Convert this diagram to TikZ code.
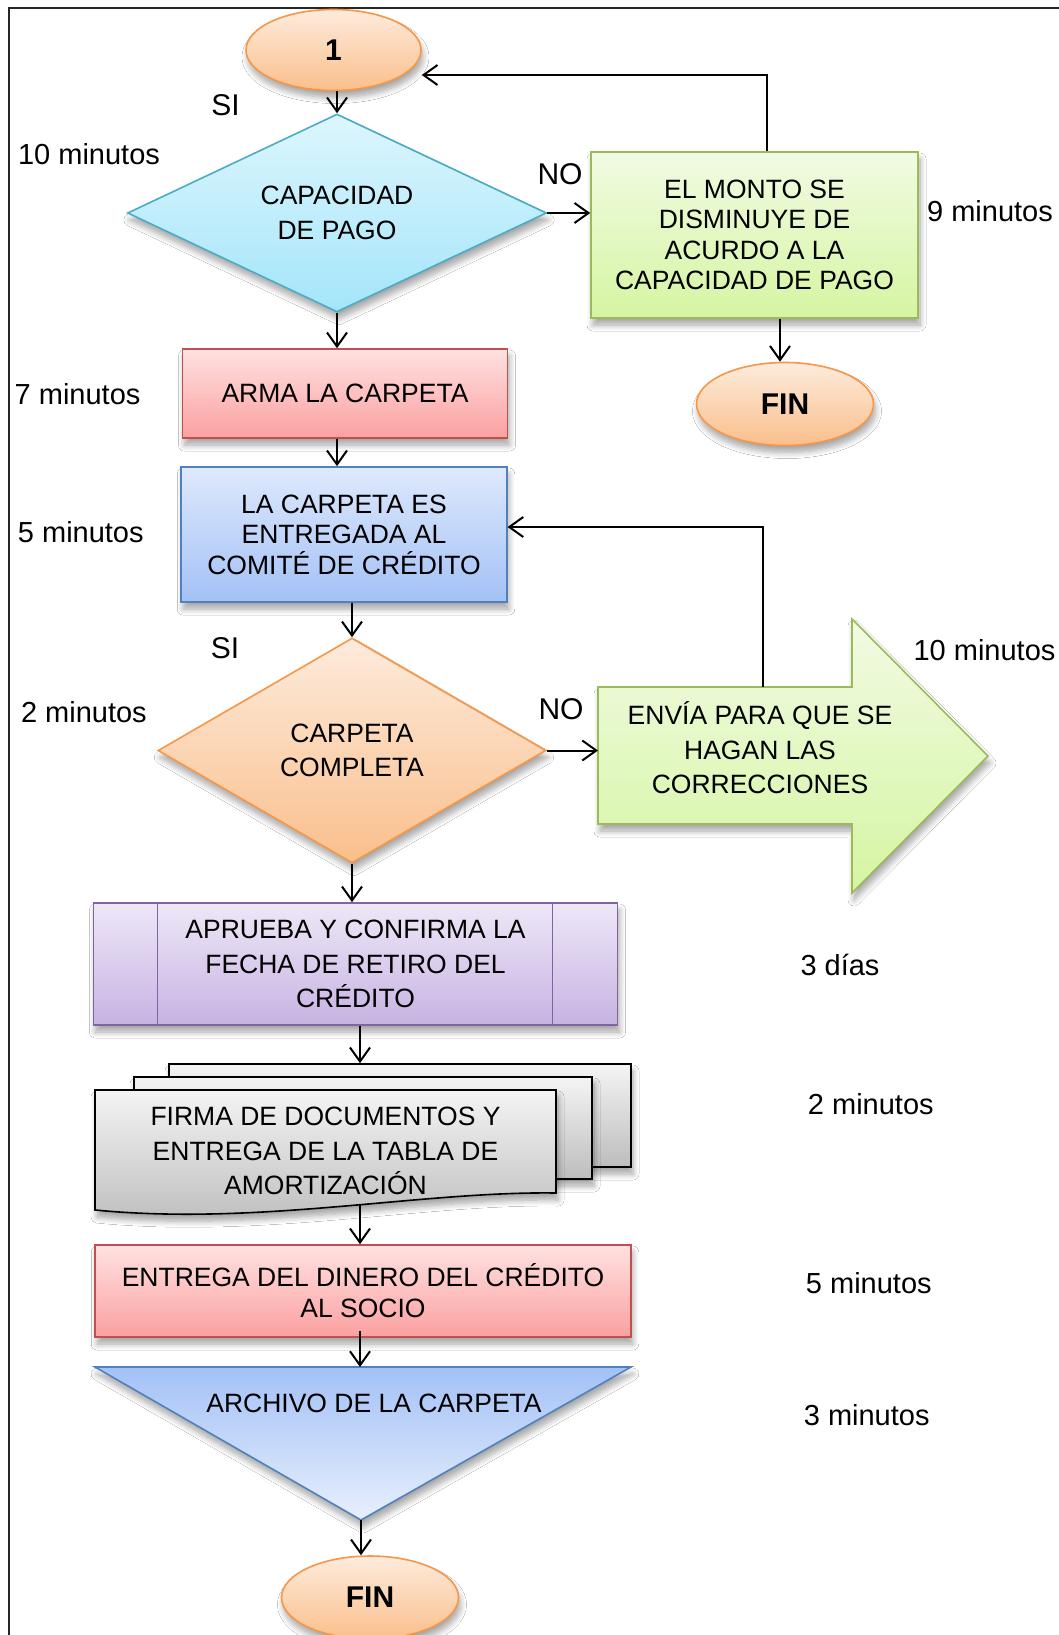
\documentclass[tikz,border=0pt]{standalone}
\usepackage{fontspec}
\setmainfont{Liberation Sans}
\usetikzlibrary{shapes.geometric,arrows.meta,shadows.blur}

% fills and outlines
\definecolor{orT}{HTML}{FDEBDC}\definecolor{orB}{HTML}{FABF8C}\definecolor{orL}{HTML}{F79646}
\definecolor{cyT}{HTML}{DDF6FD}\definecolor{cyB}{HTML}{A4E5FA}\definecolor{cyL}{HTML}{4BACC6}
\definecolor{grT}{HTML}{F1FBE3}\definecolor{grB}{HTML}{D5F5A2}\definecolor{grL}{HTML}{9BBB59}
\definecolor{rdT}{HTML}{FFE1E1}\definecolor{rdB}{HTML}{FBA0A0}\definecolor{rdL}{HTML}{C0504D}
\definecolor{blT}{HTML}{DEE9FC}\definecolor{blB}{HTML}{A3C1F6}\definecolor{blL}{HTML}{4F81BD}
\definecolor{puT}{HTML}{EEE7F7}\definecolor{puB}{HTML}{C7B3E3}\definecolor{puL}{HTML}{8064A2}
\definecolor{gyT}{HTML}{F4F4F4}\definecolor{gyB}{HTML}{BDBDBD}

\tikzset{
  txt/.style={font=\fontsize{26.5}{30.5}\selectfont, align=center},
  txtwide/.style={font=\fontsize{26.5}{34.4}\selectfont, align=center},
  sidelabel/.style={font=\fontsize{29}{33}\selectfont, inner sep=0pt},
  yesno/.style={font=\fontsize{30}{34}\selectfont, inner sep=0pt},
  soft/.style={blur shadow={shadow xshift=2pt, shadow yshift=-7pt,
      shadow blur radius=6pt, shadow blur steps=8, shadow opacity=35}},
  shapeline/.style={line width=1.6pt},
  terminal/.style={ellipse, soft, shapeline, draw=orL, top color=orT, bottom color=orB,
      minimum width=177pt, minimum height=83pt, inner sep=0pt,
      font=\bfseries\fontsize{30}{34}\selectfont},
  procbox/.style n args={3}{rectangle, soft, shapeline, draw=#3, top color=#1, bottom color=#2, inner sep=0pt},
  sheet/.style={rectangle, soft, shapeline, draw=black, top color=gyT, bottom color=gyB, inner sep=0pt},
  arr/.style={-{Straight Barb[length=14pt,width=20pt]}, line width=2pt},
}

\begin{document}
\begin{tikzpicture}[x=1pt,y=-1pt]
\useasboundingbox (0,0) rectangle (1059,1635);
\fill[white] (0,0) rectangle (1059,1635);

% outer frame
\draw[line width=2pt, black!85] (8.5,1645) -- (8.5,8.5) -- (1070,8.5);

% ---------- shapes ----------
\node[terminal, minimum width=175pt, minimum height=81pt] (start) at (333.5,50) {1};

\node[diamond, shape aspect=2.1, minimum width=419pt, minimum height=198pt, inner sep=0pt,
      soft, shapeline, draw=cyL, top color=cyT, bottom color=cyB, txtwide]
      (dia1) at (337,213) {CAPACIDAD\\DE PAGO};

\node[procbox={grT}{grB}{grL}, minimum width=327pt, minimum height=166pt, txt]
      (monto) at (754.5,235) {EL MONTO SE\\DISMINUYE DE\\ACURDO A LA\\CAPACIDAD DE PAGO};

\node[terminal] (fin1) at (785,404) {FIN};

\node[procbox={rdT}{rdB}{rdL}, minimum width=325pt, minimum height=89pt, txt]
      (arma) at (345,393.5) {ARMA LA CARPETA};

\node[procbox={blT}{blB}{blL}, minimum width=325.5pt, minimum height=135pt, txt]
      (entrega) at (344,534.5) {LA CARPETA ES\\ENTREGADA AL\\COMITÉ DE CRÉDITO};

\node[diamond, shape aspect=1.72, minimum width=388pt, minimum height=225pt, inner sep=0pt,
      soft, shapeline, draw=orL, top color=orT, bottom color=orB, txtwide]
      (dia2) at (352,750.5) {CARPETA\\COMPLETA};

% block arrow with the corrections step
\path[soft, shapeline, draw=grL, top color=grT, bottom color=grB]
  (598,687) -- (852,687) -- (852,619) -- (988,756) -- (852,893) -- (852,824) -- (598,824) -- cycle;
\coordinate (enviaL) at (598,749.5);
\coordinate (enviaT) at (763,687);
\node[txtwide, inner sep=0pt] (envia) at (760,748) {ENVÍA PARA QUE SE\\HAGAN LAS\\CORRECCIONES};

% predefined process
\node[procbox={puT}{puB}{puL}, minimum width=524pt, minimum height=122pt]
      (aprueba) at (355.5,964) {};
\draw[line width=1.3pt, draw=puL] (aprueba.north west) ++(65,0) -- ++(0,122);
\draw[line width=1.3pt, draw=puL] (aprueba.north east) ++(-65.5,0) -- ++(0,122);
\node[txtwide, inner sep=0pt] (apruebaT) at (aprueba.center) {APRUEBA Y CONFIRMA LA\\FECHA DE RETIRO DEL\\CRÉDITO};

% stacked documents
\node[sheet, minimum width=462pt, minimum height=103pt] (doc3) at (400,1115.5) {};
\node[sheet, minimum width=458pt, minimum height=102pt] (doc2) at (363,1128) {};
\path[soft, shapeline, draw=black, top color=gyT, bottom color=gyB]
  (95,1090) -- (556,1090) -- (556,1193)
  .. controls (420,1191) and (260,1226) .. (95,1210) -- cycle;
\node[txtwide, inner sep=0pt] (firma) at (325.5,1151) {FIRMA DE DOCUMENTOS Y\\ENTREGA DE LA TABLA DE\\AMORTIZACIÓN};
\coordinate (firmaB) at (360,1205);

\node[procbox={rdT}{rdB}{rdL}, minimum width=535.5pt, minimum height=92pt,
      font=\fontsize{26.5}{31}\selectfont, align=center]
      (dinero) at (363,1291) {ENTREGA DEL DINERO DEL CRÉDITO\\AL SOCIO};

% merge triangle
\path[soft, shapeline, draw=blL, top color=blB, bottom color=blT!70!white]
  (95,1367) -- (631,1367) -- (361,1520) -- cycle;
\coordinate (triTop) at (360,1367);
\coordinate (triApex) at (361,1520);
\node[txt, inner sep=0pt] (archivo) at (374,1403) {ARCHIVO DE LA CARPETA};

\node[terminal] (fin2) at (370,1597.5) {FIN};

% ---------- connectors ----------
\draw[arr] (dia1.north |- start.south) -- (dia1.north);
\draw[arr] (dia1.east) -- (dia1.east -| monto.west);
\coordinate (loopA) at (767,75);
\draw[arr] (monto.north -| loopA) -- (loopA) -- (loopA -| start.east);
\coordinate (colF) at (780,0);
\draw[arr] (monto.south -| colF) -- (fin1.north -| colF);
\draw[arr] (dia1.south) -- (dia1.south |- arma.north);
\draw[arr] (arma.south -| dia1.south) -- (entrega.north -| dia1.south);
\draw[arr] (entrega.south -| dia2.north) -- (dia2.north);
\draw[arr] (dia2.east) -- (dia2.east -| enviaL);
\coordinate (loopB) at (763,527);
\draw[arr] (enviaT) -- (loopB) -- (loopB -| entrega.east);
\draw[arr] (dia2.south) -- (dia2.south |- aprueba.north);
\draw[arr] (aprueba.south -| firmaB) -- (doc3.north -| firmaB);
\draw[arr] (firmaB) -- (dinero.north -| firmaB);
\draw[arr] ([yshift=7pt]dinero.south -| triTop) -- (triTop);
\draw[arr] (triApex) -- (triApex |- fin2.north);

% ---------- labels ----------
\node[yesno] (si1) at (225.6,105) {SI};
\node[yesno] (no1) at (560,174.6) {NO};
\node[yesno] (si2) at (225,648) {SI};
\node[yesno] (no2) at (561,708.7) {NO};

\node[sidelabel] (tA) at (89,153.7) {10 minutos};
\node[sidelabel] (tB) at (990,211.6) {9 minutos};
\node[sidelabel] (tC) at (77.6,394) {7 minutos};
\node[sidelabel] (tD) at (80.8,532.6) {5 minutos};
\node[sidelabel] (tE) at (83.9,712) {2 minutos};
\node[sidelabel] (tF) at (984.5,650.4) {10 minutos};
\node[sidelabel] (tG) at (840,965) {3 días};
\node[sidelabel] (tH) at (870.8,1103.8) {2 minutos};
\node[sidelabel] (tI) at (868.8,1283) {5 minutos};
\node[sidelabel] (tJ) at (866.7,1415.4) {3 minutos};
\end{tikzpicture}
\end{document}
